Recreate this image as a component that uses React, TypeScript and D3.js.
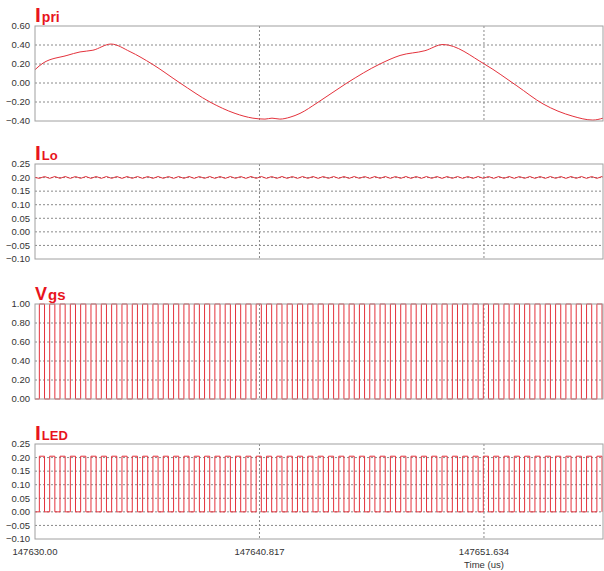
import React from 'react';
import * as d3 from 'd3';

// time axis (us)
const tStart = 147630.0;
const tSpan = 27.37;
const xTickValues = [147630.0, 147640.817, 147651.634];
const xTickLabels = ['147630.00', '147640.817', '147651.634'];

// primary current (time offset in us, amps)
const ipriT = [0, 0.39, 1.54, 2.17, 2.79, 3.66, 4.58, 5.64, 6.99, 8.43, 9.64, 10.5, 11.08, 11.42, 11.8, 12.29, 12.77, 13.59, 15.03, 16.62, 17.59, 18.79, 19.66, 21.68, 23.22, 24.48, 25.92, 26.88, 27.37];
const ipriA = [0.14, 0.21, 0.29, 0.327, 0.345, 0.41, 0.33, 0.2, 0.0, -0.2, -0.32, -0.37, -0.38, -0.37, -0.38, -0.36, -0.32, -0.21, 0.0, 0.2, 0.29, 0.34, 0.405, 0.196, -0.03, -0.22, -0.35, -0.39, -0.37];

// switching: first rising edge, period, duty (us)
const switchStart = 0.21;
const switchPeriod = 0.4975;
const switchDuty = 0.5;

const iloLevels = [0.197, 0.204]; // valley, peak
const vgsLevels = [0, 1];
const iledLevels = [0, 0.205];

const ipriTicks = [0.6, 0.4, 0.2, 0.0, -0.2, -0.4];
const smallTicks = [0.25, 0.2, 0.15, 0.1, 0.05, 0.0, -0.05, -0.1];
const vgsTicks = [1.0, 0.8, 0.6, 0.4, 0.2, 0.0];

const W = 604;
const H = 571;
const left = 35;
const right = 603;
const panelH = 95;
const red = '#e4323c';
const titleRed = '#e8141c';
const font = '"Liberation Sans", Arial, sans-serif';

type Pt = [number, number];

// square wave edges from the switching timing
function squareWave(lo: number, hi: number): Pt[] {
  const pts: Pt[] = [[0, lo]];
  for (let r = switchStart; r < tSpan; r += switchPeriod) {
    const f = Math.min(r + switchPeriod * switchDuty, tSpan);
    pts.push([r, lo], [r, hi], [f, hi]);
    if (f < tSpan) pts.push([f, lo]);
  }
  return pts;
}

// triangular ripple: ramps up while switch is on, down while off
function ripple(valley: number, peak: number): Pt[] {
  const pts: Pt[] = [[0, (valley + peak) / 2]];
  for (let r = switchStart; r < tSpan; r += switchPeriod) {
    const f = r + switchPeriod * switchDuty;
    pts.push([r, valley]);
    if (f < tSpan) pts.push([f, peak]);
  }
  pts.push([tSpan, (valley + peak) / 2]);
  return pts;
}

const ipriPts: Pt[] = ipriT.map((t, i) => [t, ipriA[i]]);

const panels = [
  { key: 'pri', main: 'I', sub: 'pri', mainSize: 21, subSize: 14, top: 26, domain: [-0.4, 0.6], ticks: ipriTicks, data: ipriPts, smooth: true },
  { key: 'lo', main: 'I', sub: 'Lo', mainSize: 21, subSize: 13, top: 164, domain: [-0.1, 0.25], ticks: smallTicks, data: ripple(iloLevels[0], iloLevels[1]), smooth: false },
  { key: 'vgs', main: 'V', sub: 'gs', mainSize: 18, subSize: 15, top: 304, domain: [0, 1], ticks: vgsTicks, data: squareWave(vgsLevels[0], vgsLevels[1]), smooth: false },
  { key: 'led', main: 'I', sub: 'LED', mainSize: 21, subSize: 13, top: 444, domain: [-0.1, 0.25], ticks: smallTicks, data: squareWave(iledLevels[0], iledLevels[1]), smooth: false },
];

const x = d3.scaleLinear().domain([tStart, tStart + tSpan]).range([left, right]);
const fmt = d3.format('.2f');

const Panel = ({ p }: { p: typeof panels[number] }) => {
  const y = d3.scaleLinear().domain(p.domain).range([p.top + panelH, p.top]);
  const line = d3
    .line<Pt>()
    .x(d => x(tStart + d[0]))
    .y(d => y(d[1]))
    .curve(p.smooth ? d3.curveMonotoneX : d3.curveLinear);
  return (
    <g>
      <text x={left} y={p.top - 4} fill={titleRed} fontFamily={font} fontWeight="bold">
        <tspan fontSize={p.mainSize}>{p.main}</tspan>
        <tspan fontSize={p.subSize} dx={1}>{p.sub}</tspan>
      </text>
      {p.ticks.map(t => (
        <g key={t}>
          {y(t) > p.top + 0.5 && y(t) < p.top + panelH - 0.5 && (
            <line x1={left} x2={right} y1={y(t)} y2={y(t)} stroke="#8a8a8a" strokeDasharray="2,2" />
          )}
          <text x={30} y={y(t)} dy="0.35em" textAnchor="end" fontSize={9.5} fontFamily={font} fill="#333">
            {fmt(t)}
          </text>
        </g>
      ))}
      {xTickValues.slice(1).map(v => (
        <line key={v} x1={x(v)} x2={x(v)} y1={p.top} y2={p.top + panelH} stroke="#8a8a8a" strokeDasharray="2,2" />
      ))}
      <path d={line(p.data) || ''} fill="none" stroke={red} strokeWidth={1} />
      <rect x={left} y={p.top} width={right - left} height={panelH} fill="none" stroke="#a0a0a0" />
    </g>
  );
};

export default function App() {
  return (
    <div style={{ position: 'absolute', left: 0, top: 0 }}>
      <svg width={W} height={H} style={{ display: 'block', background: '#fff' }}>
        {panels.map(p => (
          <Panel key={p.key} p={p} />
        ))}
        {xTickValues.map((v, i) => (
          <text key={v} x={x(v)} y={555} textAnchor="middle" fontSize={9.5} fontFamily={font} fill="#333">
            {xTickLabels[i]}
          </text>
        ))}
        <text x={x(xTickValues[2])} y={568} textAnchor="middle" fontSize={9.5} fontFamily={font} fill="#333">
          Time (us)
        </text>
      </svg>
    </div>
  );
}
